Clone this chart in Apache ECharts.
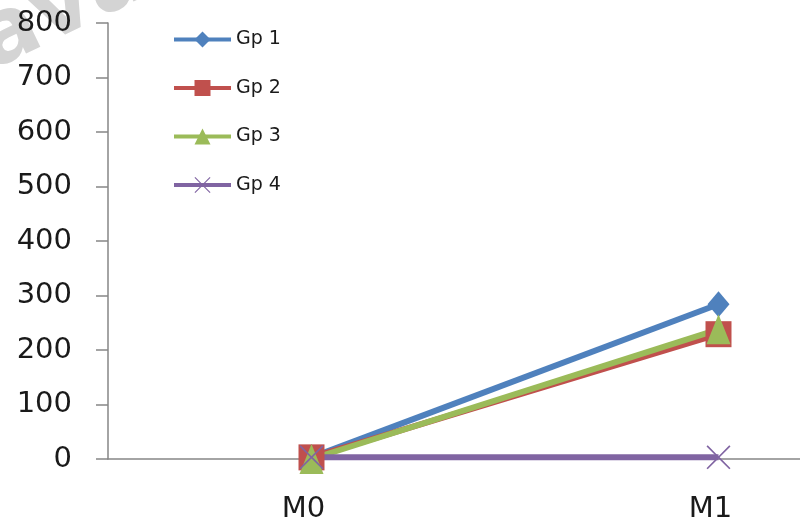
<!DOCTYPE html>
<html>
<head>
<meta charset="utf-8">
<script src="https://cdn.jsdelivr.net/npm/echarts@6/dist/echarts.min.js"></script>
<style>html,body{margin:0;padding:0;background:#fff}#c{width:800px;height:526px}</style>
</head>
<body>
<div id="c"></div>
<script>
const categories = ['M0', 'M1'];
const gp1 = [3, 284];
const gp2 = [3, 229];
const gp3 = [0, 238];
const gp4 = [3, 3];
const seriesNames = ['Gp 1', 'Gp 2', 'Gp 3', 'Gp 4'];
const yTicks = { min: 0, max: 800, interval: 100 };

const colors = ['#4F81BD', '#C0504D', '#9BBB59', '#8064A2'];
const xPath = 'path://M1,0 L10,9 L19,0 L20,1 L11,10 L20,19 L19,20 L10,11 L1,20 L0,19 L9,10 L0,1 Z';
const symbols = ['diamond', 'rect', 'triangle', xPath];
const sizes = [[22, 26], 26, [24, 30], 24];
const dataSets = [gp1, gp2, gp3, gp4];
const font = 'DejaVu Sans';

const chart = echarts.init(document.getElementById('c'));
chart.setOption({
  animation: false,
  backgroundColor: '#fff',
  graphic: [{
    type: 'text', z: -10, left: -68, top: -70, rotation: 0.45,
    style: { text: 'Java', font: 'bold 90px "DejaVu Sans"', fill: '#d4d4d4' }
  }],
  grid: { left: 108, right: -122, top: 23, bottom: 67, containLabel: false, outerBoundsMode: 'none' },
  legend: {
    orient: 'vertical', left: 172, top: 30, padding: 0, itemWidth: 57, itemHeight: 20, itemGap: 29.5,
    textStyle: { fontFamily: font, fontSize: 19, color: '#1a1a1a' },
    lineStyle: { width: 4 },
    data: seriesNames
  },
  xAxis: {
    type: 'category', data: categories, boundaryGap: true,
    axisLine: { lineStyle: { color: '#868686', width: 1.5 } },
    axisTick: { show: false },
    axisLabel: { fontFamily: font, fontSize: 29, color: '#1a1a1a', margin: 36, padding: [0, 16, 0, 0] }
  },
  yAxis: {
    type: 'value', min: yTicks.min, max: yTicks.max, interval: yTicks.interval,
    axisLine: { show: true, lineStyle: { color: '#868686', width: 1.5 } },
    axisTick: { show: true, length: 12, lineStyle: { color: '#868686', width: 1.5 } },
    splitLine: { show: false },
    axisLabel: { fontFamily: font, fontSize: 29, color: '#1a1a1a', margin: 36 }
  },
  series: seriesNames.map((n, i) => ({
    name: n, type: 'line', data: dataSets[i],
    symbol: symbols[i], symbolSize: sizes[i], showSymbol: true,
    lineStyle: { color: colors[i], width: 6 },
    itemStyle: { color: colors[i] }
  }))
});
</script>
</body>
</html>
